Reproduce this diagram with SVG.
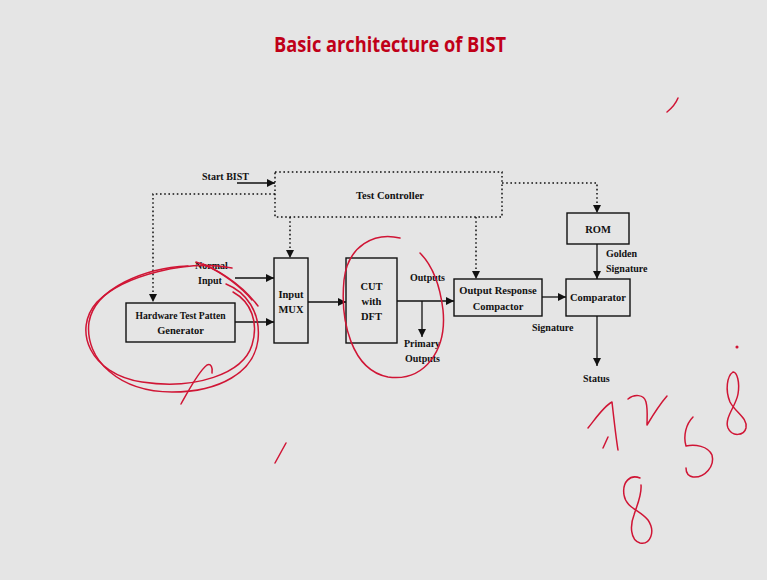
<svg xmlns="http://www.w3.org/2000/svg" width="767" height="580" viewBox="0 0 767 580">
  <style>
    .box { fill: none; stroke: #111; stroke-width: 1.4; }
    .lbl { font-family: "Liberation Serif", "Times New Roman", serif; font-weight: bold; font-size: 10.5px; fill: #111; text-anchor: middle; }
    .lbl-l { font-family: "Liberation Serif", "Times New Roman", serif; font-weight: bold; font-size: 10px; fill: #111; }
    .wire { fill: none; stroke: #111; stroke-width: 1.3; }
    .dot { fill: none; stroke: #111; stroke-width: 1.5; stroke-dasharray: 1.6 2.6; }
    .ink { fill: none; stroke: #d01535; stroke-width: 1.5; stroke-linecap: round; stroke-linejoin: round; }
  </style>
  <defs>
    <marker id="arr" viewBox="0 0 10 10" refX="10" refY="5" markerWidth="9" markerHeight="8" markerUnits="userSpaceOnUse" orient="auto">
      <path d="M0,0 L10,5 L0,10 Z" fill="#111"/>
    </marker>
  </defs>

  <rect width="767" height="580" fill="#e5e5e5"/>

  <text x="390" y="52" font-family="Open Sans, Liberation Sans, sans-serif" font-weight="bold" font-size="22" fill="#c00018" text-anchor="middle" textLength="232" lengthAdjust="spacingAndGlyphs">Basic architecture of BIST</text>

  <!-- Blocks -->
  <g id="test-controller">
    <rect x="275" y="172" width="227" height="45" class="dot"/>
    <text x="390" y="199" class="lbl">Test Controller</text>
  </g>
  <g id="htpg">
    <rect x="126" y="303" width="109" height="39" class="box"/>
    <text x="180.5" y="319" class="lbl" textLength="90" lengthAdjust="spacingAndGlyphs">Hardware Test Patten</text>
    <text x="180.5" y="334" class="lbl">Generator</text>
  </g>
  <g id="input-mux">
    <rect x="274" y="258" width="34" height="85" class="box"/>
    <text x="291" y="298" class="lbl">Input</text>
    <text x="291" y="313" class="lbl">MUX</text>
  </g>
  <g id="cut">
    <rect x="346" y="258" width="51" height="85" class="box"/>
    <text x="371.5" y="290" class="lbl">CUT</text>
    <text x="371.5" y="305" class="lbl">with</text>
    <text x="371.5" y="320" class="lbl">DFT</text>
  </g>
  <g id="orc">
    <rect x="454" y="279" width="88" height="37" class="box"/>
    <text x="498" y="294" class="lbl">Output Response</text>
    <text x="498" y="310" class="lbl">Compactor</text>
  </g>
  <g id="rom">
    <rect x="567" y="213" width="62" height="31" class="box"/>
    <text x="598" y="233" class="lbl">ROM</text>
  </g>
  <g id="comparator">
    <rect x="566" y="279" width="64" height="37" class="box"/>
    <text x="598" y="301" class="lbl">Comparator</text>
  </g>

  <!-- Connectors -->
  <g id="connectors">
    <path d="M237,183 H275" class="wire" marker-end="url(#arr)"/>
    <path d="M275,194 H153 V302" class="dot" marker-end="url(#arr)"/>
    <path d="M290,217 V258" class="dot" marker-end="url(#arr)"/>
    <path d="M476,217 V279" class="dot" marker-end="url(#arr)"/>
    <path d="M502,183 H597 V213" class="dot" marker-end="url(#arr)"/>
    <path d="M235,278 H274" class="wire" marker-end="url(#arr)"/>
    <path d="M235,322 H274" class="wire" marker-end="url(#arr)"/>
    <path d="M308,302 H346" class="wire" marker-end="url(#arr)"/>
    <path d="M397,301 H454" class="wire" marker-end="url(#arr)"/>
    <path d="M422,301 V337" class="wire" marker-end="url(#arr)"/>
    <path d="M542,297 H566" class="wire" marker-end="url(#arr)"/>
    <path d="M597,244 V279" class="wire" marker-end="url(#arr)"/>
    <path d="M597,316 V366" class="wire" marker-end="url(#arr)"/>
  </g>

  <!-- Free labels -->
  <g id="labels">
    <text x="202" y="180" class="lbl-l">Start BIST</text>
    <text x="195" y="269" class="lbl-l">Normal</text>
    <text x="198" y="284" class="lbl-l">Input</text>
    <text x="410" y="281" class="lbl-l">Outputs</text>
    <text x="404" y="347" class="lbl-l">Primary</text>
    <text x="405" y="362" class="lbl-l">Outputs</text>
    <text x="532" y="331" class="lbl-l">Signature</text>
    <text x="606" y="257" class="lbl-l">Golden</text>
    <text x="606" y="272" class="lbl-l">Signature</text>
    <text x="583" y="382" class="lbl-l">Status</text>
  </g>

  <!-- Pen annotations -->
  <g id="annotations" class="ink">
    <path d="M188,266 C145,268 95,288 89,322 C84,360 120,392 172,392 C220,392 254,372 258,340 C261,312 246,292 226,284"/>
    <path d="M232,268 C188,260 125,274 97,302 C72,330 90,374 142,382 C195,390 243,374 252,345 C259,322 251,302 233,292"/>
    <path d="M196,262 C215,268 240,282 258,306"/>
    <path d="M203,264 C222,272 242,288 252,300"/>
    <path d="M181,404 C189,390 198,372 207,365 C211,363 213,368 212,373"/>
    <path d="M275,463 L286,443"/>
    <path d="M667,112 C672,108 676,103 678,98"/>
    <path d="M400,238 C375,232 348,245 344,280 C340,322 352,370 388,377 C425,382 447,350 443,310 C440,285 432,265 420,253"/>
    <path d="M588,428 C596,418 604,406 612,402 C614,420 616,438 618,450"/>
    <path d="M603,448 L608,437"/>
    <path d="M628,399 C634,394 644,394 646,402 C648,410 647,418 647,425 C653,415 660,404 667,396"/>
    <path d="M693,417 C686,424 683,436 686,446 C695,444 708,446 712,455 C715,466 705,478 693,477 C688,476 686,472 686,468"/>
    <path d="M733,372 C727,376 725,390 730,402 C735,412 748,418 746,428 C744,436 732,437 728,428 C724,418 736,406 738,394 C740,382 737,372 733,372"/>
    <path d="M640,478 C630,474 622,482 624,495 C626,508 640,510 648,520 C656,532 650,545 640,543 C630,540 630,525 634,515 C637,505 642,495 641,485"/>
    <circle cx="737" cy="347" r="0.8"/>
  </g>
</svg>
